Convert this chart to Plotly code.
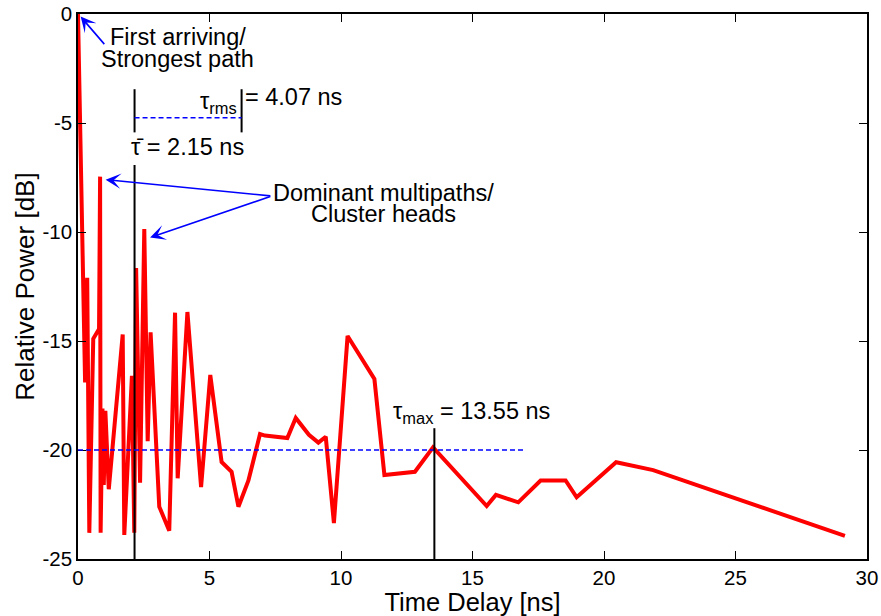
import plotly.graph_objects as go

# Power delay profile: excess delay (ns) and relative power (dB)
delay_ns = [0, 0.27, 0.35, 0.43, 0.58, 0.80, 0.84, 0.86, 0.93, 0.98, 1.04, 1.17,
            1.70, 1.76, 2.05, 2.14, 2.21, 2.36, 2.52, 2.65, 2.76, 3.09, 3.47, 3.69,
            3.79, 4.16, 4.68, 5.03, 5.46, 5.84, 6.10, 6.48, 6.92, 7.11, 7.96, 8.28,
            8.78, 9.14, 9.42, 9.73, 10.25, 11.27, 11.65, 12.81, 13.50, 15.54, 15.89,
            16.74, 17.59, 18.54, 18.96, 20.46, 21.87, 29.16]
power_db = [0, -16.9, -12.1, -23.8, -14.9, -14.45, -7.46, -23.8, -18.1, -21.6, -18.2, -21.8,
            -14.7, -23.9, -16.6, -23.8, -11.65, -21.5, -9.86, -19.6, -14.6, -22.6, -23.7, -13.7,
            -21.3, -13.67, -21.7, -16.56, -20.55, -21.0, -22.6, -21.4, -19.27, -19.34, -19.45, -18.53,
            -19.3, -19.66, -19.39, -23.35, -14.77, -16.74, -21.15, -21.0, -19.88, -22.57, -22.06,
            -22.4, -21.4, -21.4, -22.17, -20.56, -20.92, -23.94]

# Delay-spread statistics
tau_mean = 2.15
tau_rms = 4.07
tau_max = 13.55
threshold_db = -20
threshold_end_ns = 17

x_ticks = [0, 5, 10, 15, 20, 25, 30]
y_ticks = [-25, -20, -15, -10, -5, 0]

FONT = "Liberation Sans, Arial, Helvetica, sans-serif"
BLUE = "#0000ff"
DASH = "5px,3px"

fig = go.Figure()
fig.add_trace(go.Scatter(
    x=delay_ns, y=power_db, mode="lines",
    line=dict(color="#ff0000", width=4),
    showlegend=False, hoverinfo="x+y",
))

shapes = []
# mean delay marker (split around its label)
shapes.append(dict(type="line", xref="x", yref="y", x0=tau_mean, x1=tau_mean,
                   y0=-3.45, y1=-5.43, line=dict(color="black", width=2)))
shapes.append(dict(type="line", xref="x", yref="y", x0=tau_mean, x1=tau_mean,
                   y0=-6.93, y1=-25, line=dict(color="black", width=2)))
# rms delay spread bracket
shapes.append(dict(type="line", xref="x", yref="y", x0=tau_mean + tau_rms, x1=tau_mean + tau_rms,
                   y0=-3.45, y1=-5.43, line=dict(color="black", width=2)))
shapes.append(dict(type="line", xref="x", yref="y", x0=tau_mean, x1=tau_mean + tau_rms,
                   y0=-4.76, y1=-4.76, line=dict(color=BLUE, width=1.5, dash=DASH)))
# threshold line
shapes.append(dict(type="line", xref="x", yref="y", x0=0, x1=threshold_end_ns,
                   y0=threshold_db, y1=threshold_db, line=dict(color=BLUE, width=1.5, dash=DASH)))
# maximum excess delay marker
shapes.append(dict(type="line", xref="x", yref="y", x0=tau_max, x1=tau_max,
                   y0=-19.0, y1=-25, line=dict(color="black", width=2)))

ann_font = dict(family=FONT, size=23.5, color="black")
annotations = []


def label(x, y, text, xanchor="center", yanchor="middle"):
    annotations.append(dict(x=x, y=y, xref="x", yref="y", text=text, showarrow=False,
                            xanchor=xanchor, yanchor=yanchor, font=ann_font))


def arrow(x_tip, y_tip, x_tail, y_tail):
    annotations.append(dict(x=x_tip, y=y_tip, ax=x_tail, ay=y_tail, xref="x", yref="y",
                            axref="x", ayref="y", text="", showarrow=True,
                            arrowhead=3, arrowsize=1.6, arrowwidth=1.6, arrowcolor=BLUE))


label(3.80, -1.05, "First arriving/")
label(3.80, -2.06, "Strongest path")
arrow(0.10, -0.12, 1.05, -1.45)

label(11.62, -8.22, "Dominant multipaths/")
label(11.62, -9.18, "Cluster heads")
arrow(1.05, -7.6, 7.37, -8.35)
arrow(2.74, -10.25, 7.37, -8.35)

label(tau_mean + tau_rms - 0.1, -4.05, "\u03c4<sub>rms</sub>", xanchor="right")
label(tau_mean + tau_rms + 0.04, -3.79, f"= {tau_rms:.2f} ns", xanchor="left")
label(1.94, -6.08, f"\u03c4\u0304 = {tau_mean:.2f} ns", xanchor="left")
label(11.9, -18.3, f"\u03c4<sub>max</sub> = {tau_max:.2f} ns", xanchor="left")

axis_common = dict(
    showgrid=False, zeroline=False, showline=True, linecolor="black", linewidth=1.5,
    mirror="ticks", ticks="inside", ticklen=8, tickwidth=1.2, tickcolor="black",
    tickfont=dict(family=FONT, size=20.5, color="black"), automargin=False,
)

fig.update_layout(
    width=881, height=616,
    margin=dict(l=78, r=14, t=14, b=57),
    paper_bgcolor="white", plot_bgcolor="white",
    font=dict(family=FONT, color="black"),
    xaxis=dict(range=[0, 30], tickvals=x_ticks, ticktext=[str(v) for v in x_ticks],
               title=dict(text="Time Delay [ns]", font=dict(family=FONT, size=25.5), standoff=3),
               **axis_common),
    yaxis=dict(range=[-25, 0], tickvals=y_ticks, ticktext=[str(v) for v in y_ticks],
               title=dict(text="Relative Power [dB]", font=dict(family=FONT, size=26), standoff=0),
               **axis_common),
    shapes=shapes,
    annotations=annotations,
)

fig.write_html("out.html")
